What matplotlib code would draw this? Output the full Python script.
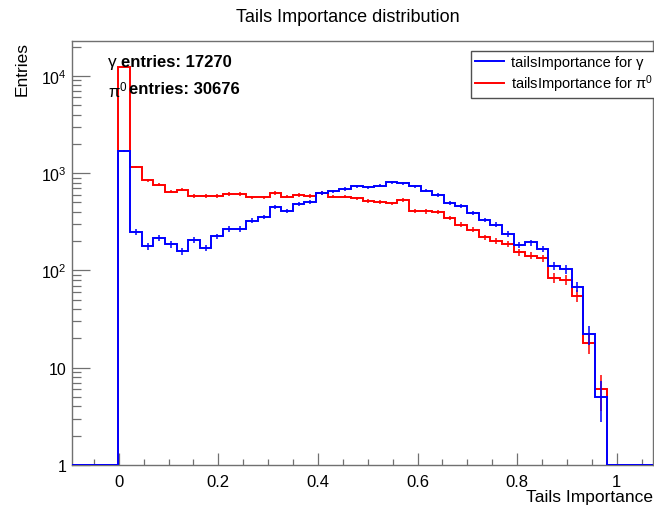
import numpy as np
import matplotlib
matplotlib.use("Agg")
import matplotlib.pyplot as plt
from matplotlib.lines import Line2D
from matplotlib.ticker import FixedLocator, FuncFormatter, LogLocator, MultipleLocator, NullFormatter

plt.rcParams["font.family"] = ["Liberation Sans", "DejaVu Sans"]
plt.rcParams["mathtext.fontset"] = "custom"
plt.rcParams["mathtext.rm"] = "Liberation Sans"
plt.rcParams["mathtext.it"] = "Liberation Sans"
plt.rcParams["mathtext.bf"] = "Liberation Sans:bold"

# histogram binning as in the ROOT canvas
x_min, x_max, n_bins = -0.094, 1.073, 50

# bin contents, 50 bins (first/last 4 are empty)
gamma_counts = [0, 0, 0, 0,
                1700, 248, 177, 215, 185, 158, 204, 171, 224, 267,
                267, 324, 356, 445, 411, 481, 508, 624, 650, 687,
                731, 714, 742, 804, 785, 731, 659, 596, 495, 462,
                389, 330, 295, 237, 184, 194, 166, 111, 103, 68,
                22, 5,
                0, 0, 0, 0]
pi0_counts = [0, 0, 0, 0,
              12300, 1164, 849, 760, 644, 676, 586, 586, 580, 610,
              610, 564, 564, 624, 573, 596, 586, 624, 575, 573,
              551, 521, 508, 489, 533, 411, 405, 396, 345, 295,
              262, 219, 202, 187, 153, 142, 134, 84, 80, 55,
              18, 6,
              0, 0, 0, 0]

gamma_entries = 17270
pi0_entries = 30676

x_ticks = [0, 0.2, 0.4, 0.6, 0.8, 1.0]
x_tick_labels = ["0", "0.2", "0.4", "0.6", "0.8", "1"]
y_min, y_max = 1, 23000

frame_col = "#707070"
W, H = 654, 506

fig = plt.figure(figsize=(W / 100, H / 100), dpi=100)
ax = fig.add_axes([72 / W, 40 / H, (653 - 72) / W, (466 - 41.7) / H])

edges = np.linspace(x_min, x_max, n_bins + 1)
centers = 0.5 * (edges[:-1] + edges[1:])


def draw_hist(counts, color):
    counts = np.asarray(counts, dtype=float)
    # ROOT draws empty bins on the frame floor in log scale
    shown = np.where(counts > 0, counts, y_min)
    ax.stairs(shown, edges, baseline=None, color=color, lw=1.4, zorder=3)
    nz = counts > 0
    err = np.sqrt(counts[nz])
    lo = np.minimum(err, counts[nz] - y_min * 1.0001)
    ax.errorbar(centers[nz], counts[nz], yerr=[lo, err], fmt="none",
                ecolor=color, elinewidth=1.1, capsize=0, zorder=3)


draw_hist(pi0_counts, "#ff0000")
draw_hist(gamma_counts, "#0000ff")

ax.set_xlim(x_min, x_max)
ax.set_yscale("log")
ax.set_ylim(y_min, y_max)

ax.xaxis.set_major_locator(FixedLocator(x_ticks))
ax.set_xticklabels(x_tick_labels)
ax.xaxis.set_minor_locator(MultipleLocator(0.05))


def ylab(v, pos):
    if v == 1:
        return "1"
    if v == 10:
        return "10"
    return r"$10^{%d}$" % int(round(np.log10(v)))


ax.yaxis.set_major_locator(LogLocator(base=10, numticks=10))
ax.yaxis.set_major_formatter(FuncFormatter(ylab))
ax.yaxis.set_minor_locator(LogLocator(base=10, subs=np.arange(2, 10), numticks=20))
ax.yaxis.set_minor_formatter(NullFormatter())

ax.tick_params(axis="x", which="major", direction="in", length=8.6, width=0.9,
               color=frame_col, labelsize=12, pad=6.5, top=False)
ax.tick_params(axis="x", which="minor", direction="in", length=4.3, width=0.9,
               color=frame_col, top=False)
ax.tick_params(axis="y", which="major", direction="in", length=13, width=0.9,
               color=frame_col, labelsize=11.5, pad=4, right=False)
ax.tick_params(axis="y", which="minor", direction="in", length=6.5, width=0.9,
               color=frame_col, right=False)
for sp in ax.spines.values():
    sp.set_color(frame_col)
    sp.set_linewidth(1.0)

fig.text(348 / W, 1 - 17 / H, "Tails Importance distribution", ha="center", va="center",
         fontsize=13)
fig.text(653 / W, 1 - 498 / H, "Tails Importance", ha="right", va="center", fontsize=12.5)
fig.text(22 / W, 1 - 41.7 / H, "Entries", ha="center", va="top", rotation=90, fontsize=12.5)

# entries annotations
fig.text(108 / W, 1 - 63 / H, "γ", ha="left", va="center", fontsize=12.5)
fig.text(121 / W, 1 - 63 / H, "entries: %d" % gamma_entries, ha="left", va="center",
         fontsize=12, fontweight="bold")
fig.text(108 / W, 1 - 90 / H, r"π$^{0}$", ha="left", va="center", fontsize=12)
fig.text(129 / W, 1 - 90 / H, "entries: %d" % pi0_entries, ha="left", va="center",
         fontsize=12, fontweight="bold")

handles = [Line2D([], [], color="#0000ff", lw=1.4),
           Line2D([], [], color="#ff0000", lw=1.4)]
leg = fig.legend(handles, ["tailsImportance for γ", r"tailsImportance for π$^{0}$"],
                 loc="upper left", bbox_to_anchor=(471 / W, 1 - 52 / H),
                 fontsize=10.5, frameon=True, fancybox=False, framealpha=1,
                 borderaxespad=0, borderpad=0.25, handlelength=2.0, handletextpad=0.5,
                 labelspacing=0.25)
leg.get_frame().set_edgecolor("#505050")
leg.get_frame().set_linewidth(1.0)

fig.savefig("out.png", dpi=100)
